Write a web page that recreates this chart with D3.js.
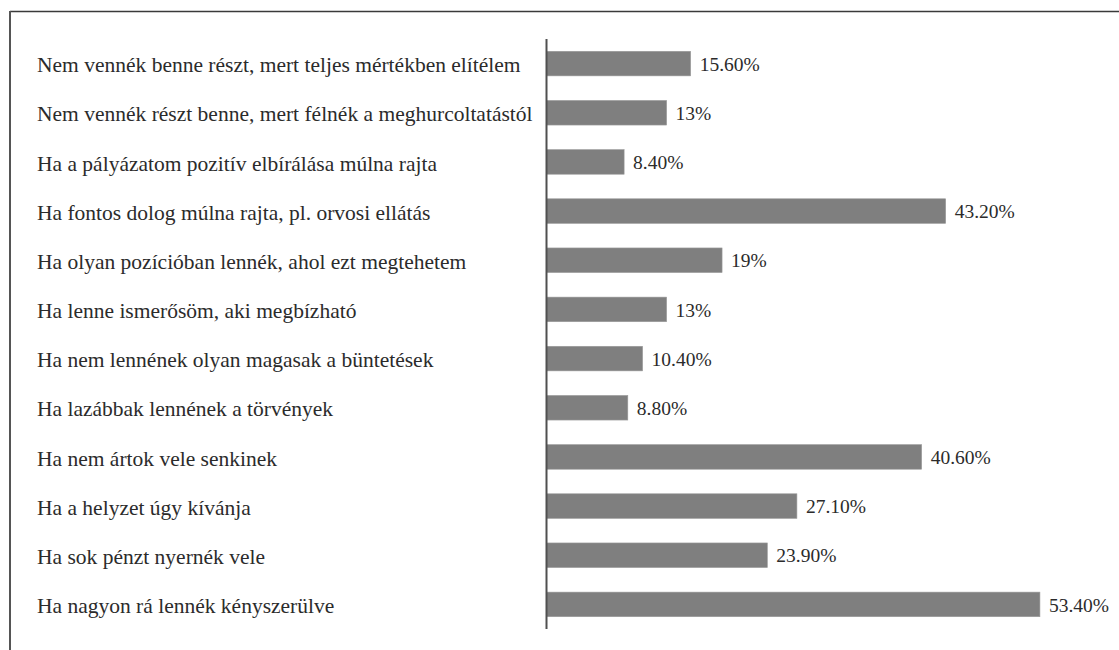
<!DOCTYPE html>
<html>
<head>
    <meta charset="utf-8">
    <script src="https://d3js.org/d3.v7.min.js"></script>
    <style>
        body { margin: 0; background: #fff; }
        .label {
            font-family: "Liberation Serif", "Times New Roman", serif;
            font-size: 21.5px;
            fill: #2b2b2b;
        }
        .value {
            font-family: "Liberation Serif", "Times New Roman", serif;
            font-size: 19.5px;
            fill: #2b2b2b;
        }
        .bar { fill: #7f7f7f; stroke: #9a9a9a; stroke-width: 0.6; }
    </style>
</head>
<body>
<script>
    // Categories, top to bottom
    let categories = [
        "Nem vennék benne részt, mert teljes mértékben elítélem",
        "Nem vennék részt benne, mert félnék a meghurcoltatástól",
        "Ha a pályázatom pozitív elbírálása múlna rajta",
        "Ha fontos dolog múlna rajta, pl. orvosi ellátás",
        "Ha olyan pozícióban lennék, ahol ezt megtehetem",
        "Ha lenne ismerősöm, aki megbízható",
        "Ha nem lennének olyan magasak a büntetések",
        "Ha lazábbak lennének a törvények",
        "Ha nem ártok vele senkinek",
        "Ha a helyzet úgy kívánja",
        "Ha sok pénzt nyernék vele",
        "Ha nagyon rá lennék kényszerülve"
    ];

    // Percent values
    let values = [15.6, 13, 8.4, 43.2, 19, 13, 10.4, 8.8, 40.6, 27.1, 23.9, 53.4];

    // Value labels as printed
    let valueLabels = ["15.60%", "13%", "8.40%", "43.20%", "19%", "13%",
        "10.40%", "8.80%", "40.60%", "27.10%", "23.90%", "53.40%"];

    let width = 1119, height = 650;

    let svg = d3.select("body").append("svg")
        .attr("width", width)
        .attr("height", height);

    // Frame (top and left edges)
    svg.append("line")
        .attr("x1", 10).attr("x2", width).attr("y1", 11.5).attr("y2", 11.5)
        .attr("stroke", "#3a3a3a").attr("stroke-width", 1.6);
    svg.append("line")
        .attr("x1", 10).attr("x2", 10).attr("y1", 11).attr("y2", height)
        .attr("stroke", "#555").attr("stroke-width", 2);

    let y = d3.scaleBand()
        .domain(categories)
        .range([39, 629])
        .paddingInner(0.5)
        .paddingOuter(0.25);

    let x = d3.scaleLinear()
        .domain([0, 60])
        .range([546.5, 546.5 + 60 * 9.24]);

    let rows = categories.map((c, i) => ({ cat: c, v: values[i], lab: valueLabels[i] }));

    svg.selectAll(".bar")
        .data(rows)
        .enter().append("rect")
        .attr("class", "bar")
        .attr("x", x(0))
        .attr("y", d => y(d.cat))
        .attr("width", d => x(d.v) - x(0))
        .attr("height", y.bandwidth());

    svg.selectAll(".value")
        .data(rows)
        .enter().append("text")
        .attr("class", "value")
        .attr("x", d => x(d.v) + 9)
        .attr("y", d => y(d.cat) + y.bandwidth() / 2)
        .attr("dy", "0.37em")
        .text(d => d.lab);

    svg.selectAll(".label")
        .data(rows)
        .enter().append("text")
        .attr("class", "label")
        .attr("x", 37)
        .attr("y", d => y(d.cat) + y.bandwidth() / 2)
        .attr("dy", "0.4em")
        .text(d => d.cat);

    // Category axis line
    svg.append("line")
        .attr("x1", x(0)).attr("x2", x(0))
        .attr("y1", 39).attr("y2", 629)
        .attr("stroke", "#505050").attr("stroke-width", 2);
</script>
</body>
</html>
